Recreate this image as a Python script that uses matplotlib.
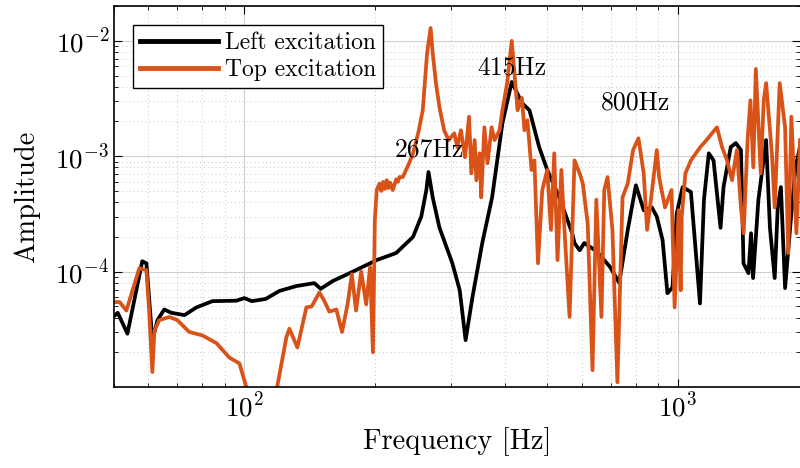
import matplotlib
matplotlib.use("Agg")
import matplotlib.pyplot as plt

plt.rcParams['font.family'] = 'serif'
plt.rcParams['font.serif'] = ['cmr10']
plt.rcParams['mathtext.fontset'] = 'cm'
plt.rcParams['axes.formatter.use_mathtext'] = True

# Left excitation (black)
freq_left = [49.6, 51, 53.7, 58.1, 59.4, 61.3, 63, 65.3, 67.8, 72.7, 77.5, 84.4,
             95.8, 100, 104, 112, 120.4, 131.8, 145, 150, 160, 177, 202, 224,
             245, 256, 263, 266, 272, 282, 302, 314, 324, 336, 354, 373, 394,
             414, 437, 455, 479, 500, 533, 571, 578, 594, 609, 650, 698, 733,
             767, 801, 835, 872, 895, 923, 947, 973, 995, 1027, 1073, 1126,
             1150, 1180, 1210, 1256, 1276, 1326, 1362, 1400, 1419, 1457, 1477,
             1493, 1536, 1600, 1633, 1675, 1702, 1731, 1770, 1818, 1870, 1916]
amp_left = [4.0e-5, 4.4e-5, 2.9e-5, 1.23e-4, 1.18e-4, 2.55e-5, 3.8e-5, 4.7e-5,
            4.4e-5, 4.2e-5, 4.9e-5, 5.55e-5, 5.6e-5, 5.9e-5, 5.55e-5, 5.8e-5,
            6.8e-5, 7.5e-5, 7.95e-5, 7.1e-5, 8.3e-5, 9.9e-5, 1.26e-4, 1.45e-4,
            2.0e-4, 3.0e-4, 5.1e-4, 7.3e-4, 4.4e-4, 2.4e-4, 1.18e-4, 6.9e-5,
            2.55e-5, 6.0e-5, 1.77e-4, 4.4e-4, 1.93e-3, 4.4e-3, 2.9e-3, 2.5e-3,
            1.2e-3, 7.6e-4, 4.4e-4, 2.15e-4, 1.77e-4, 1.53e-4, 1.77e-4, 1.5e-4,
            1.1e-4, 8.0e-5, 2.3e-4, 5.6e-4, 3.4e-4, 3.6e-4, 3.0e-4, 1.88e-4,
            6.5e-5, 7.3e-5, 3.2e-4, 5.4e-4, 4.9e-4, 5.3e-5, 4.2e-4, 1.06e-3,
            9.2e-4, 2.4e-4, 5.4e-4, 1.2e-3, 1.3e-3, 1.13e-3, 1.18e-4, 9.7e-5,
            2.15e-4, 8.8e-5, 4.2e-4, 1.38e-3, 2.4e-4, 8.8e-5, 3.6e-4, 5.4e-4,
            7.2e-5, 2.4e-4, 8.0e-4, 1.2e-3]

# Top excitation (orange)
freq_top = [49.6, 51.5, 53.4, 55.2, 57.2, 59.4, 60.3, 61.3, 62, 63.6, 67.1, 70,
            74.6, 80, 86.2, 92.3, 97.4, 101, 110, 119, 125, 127, 132.5, 139,
            143, 149, 153, 157, 163, 168, 173, 177, 181, 186, 191, 195, 198,
            200, 202, 205, 207, 209, 211, 213, 215, 217, 220, 224, 226, 228,
            232, 236, 240, 245, 252, 258, 264, 269, 272, 277, 282, 289, 296,
            305, 310, 316, 323, 330, 334, 340, 343, 349, 352, 358, 364, 372,
            378, 388, 394, 404, 414, 420, 427, 437, 443, 450, 460, 467, 476,
            487, 500, 510, 519, 528, 539, 548, 563, 578, 594, 604, 620, 636,
            649, 667, 677, 689, 707, 726, 746, 767, 789, 812, 835, 850, 873,
            895, 906, 935, 968, 984, 1005, 1016, 1022, 1042, 1073, 1100, 1128,
            1166, 1200, 1232, 1266, 1300, 1335, 1370, 1400, 1420, 1450, 1472,
            1495, 1515, 1555, 1580, 1600, 1650, 1675, 1720, 1770, 1800, 1830,
            1880, 1916]
amp_top = [5.45e-5, 5.45e-5, 4.6e-5, 6.9e-5, 1.07e-4, 1.03e-4, 4.4e-5, 1.35e-5,
           3.1e-5, 3.8e-5, 4.05e-5, 3.8e-5, 3.0e-5, 2.8e-5, 2.4e-5, 1.8e-5,
           1.6e-5, 1.0e-5, 5e-6, 1.0e-5, 2.7e-5, 3.2e-5, 2.2e-5, 4.9e-5,
           5.0e-5, 6.6e-5, 5.55e-5, 4.5e-5, 4.7e-5, 3.0e-5, 5.2e-5, 9.5e-5,
           4.6e-5, 1.0e-4, 5.2e-5, 1.1e-4, 2.0e-5,
           2.8e-4, 5.1e-4, 5.8e-4, 5.0e-4, 6.0e-4, 5.2e-4, 6.2e-4, 5.3e-4,
           5.9e-4, 5.1e-4, 6.3e-4, 6.0e-4, 6.6e-4, 6.6e-4, 7.6e-4, 8.7e-4,
           1.06e-3, 1.6e-3, 2.5e-3, 7.8e-3, 1.29e-2, 7.8e-3, 4.2e-3, 2.65e-3,
           1.68e-3, 1.38e-3, 1.58e-3, 1.2e-3, 1.68e-3, 9.8e-4, 2.2e-3, 7.1e-4,
           1.38e-3, 6.2e-4, 1.06e-3, 4.4e-4, 1.78e-3, 8.7e-4, 1.78e-3, 1.38e-3,
           1.68e-3, 2.5e-3, 4.3e-3, 1.0e-2, 5.2e-3, 2.5e-3, 3.2e-3, 1.68e-3,
           2.05e-3, 7.6e-4, 9.2e-4, 1.18e-4, 5.1e-4, 7.6e-4, 2.3e-4, 1.06e-3,
           1.26e-4, 7.6e-4, 2.3e-4, 4.05e-5, 9.2e-4, 7.1e-4, 5.8e-4, 2.6e-4,
           1.4e-5, 4.2e-4, 4.05e-5, 5.1e-4, 6.6e-4, 2.3e-4, 1.1e-5, 4.4e-4,
           5.8e-4, 1.13e-3, 1.43e-3, 7.1e-4, 2.3e-4, 5.1e-4, 1.13e-3, 6.6e-4,
           3.6e-4, 5.1e-4, 4.9e-5, 3.4e-4, 6.9e-5, 3.0e-4, 7.1e-4, 9.2e-4,
           1.05e-3, 1.2e-3, 1.38e-3, 1.58e-3, 1.78e-3, 1.2e-3, 9.2e-4, 6.2e-4,
           1.13e-3, 3.6e-4, 2.15e-4, 1.38e-3, 3.05e-3, 8.0e-4, 5.7e-3, 7.1e-4,
           3.05e-3, 4.3e-3, 1.06e-3, 3.6e-4, 4.3e-3, 1.78e-3, 1.45e-4, 2.2e-3,
           2.15e-4, 1.38e-3]

peak_freqs = [267, 415, 800]
peak_amps = [1.15e-3, 5.9e-3, 2.9e-3]
peak_labels = ['267Hz', '415Hz', '800Hz']

fig = plt.figure(figsize=(8, 4.68), dpi=100)
ax = fig.add_axes([0.1425, 0.173, 0.8575, 0.814])

ax.plot(freq_left, amp_left, color='black', lw=2.7, label='Left excitation')
ax.plot(freq_top, amp_top, color='#D95319', lw=2.7, label='Top excitation')

for f, a, s in zip(peak_freqs, peak_amps, peak_labels):
    ax.text(f, a, s, ha='center', va='center', fontsize=18.5)

ax.set_xscale('log')
ax.set_yscale('log')
ax.set_xlim(50, 1916)
ax.set_ylim(1e-5, 2e-2)
ax.set_yticks([1e-4, 1e-3, 1e-2])
ax.set_xlabel('Frequency [Hz]', fontsize=20.5)
ax.set_ylabel('Amplitude', fontsize=20.5)
ax.yaxis.set_label_coords(-0.107, 0.5)

ax.grid(True, which='major', color='#d0d0d0', lw=0.8)
ax.grid(True, which='minor', color='#c8c8c8', lw=0.7, ls=(0, (1, 3)))
ax.tick_params(which='both', direction='in', top=True, right=True, labelsize=19.5)
ax.tick_params(which='major', length=6)
ax.tick_params(which='minor', length=3)
ax.spines['right'].set_visible(False)
for s in ['left', 'bottom', 'top']:
    ax.spines[s].set_linewidth(1.2)

leg = ax.legend(loc='upper left', fontsize=17, handlelength=3.3,
                fancybox=False, framealpha=1, edgecolor='black',
                borderaxespad=0.8, borderpad=0.3, labelspacing=0.2,
                handletextpad=0.3)
leg.get_frame().set_linewidth(1.0)
for line in leg.get_lines():
    line.set_linewidth(3.5)

fig.savefig('out.png', dpi=100)
